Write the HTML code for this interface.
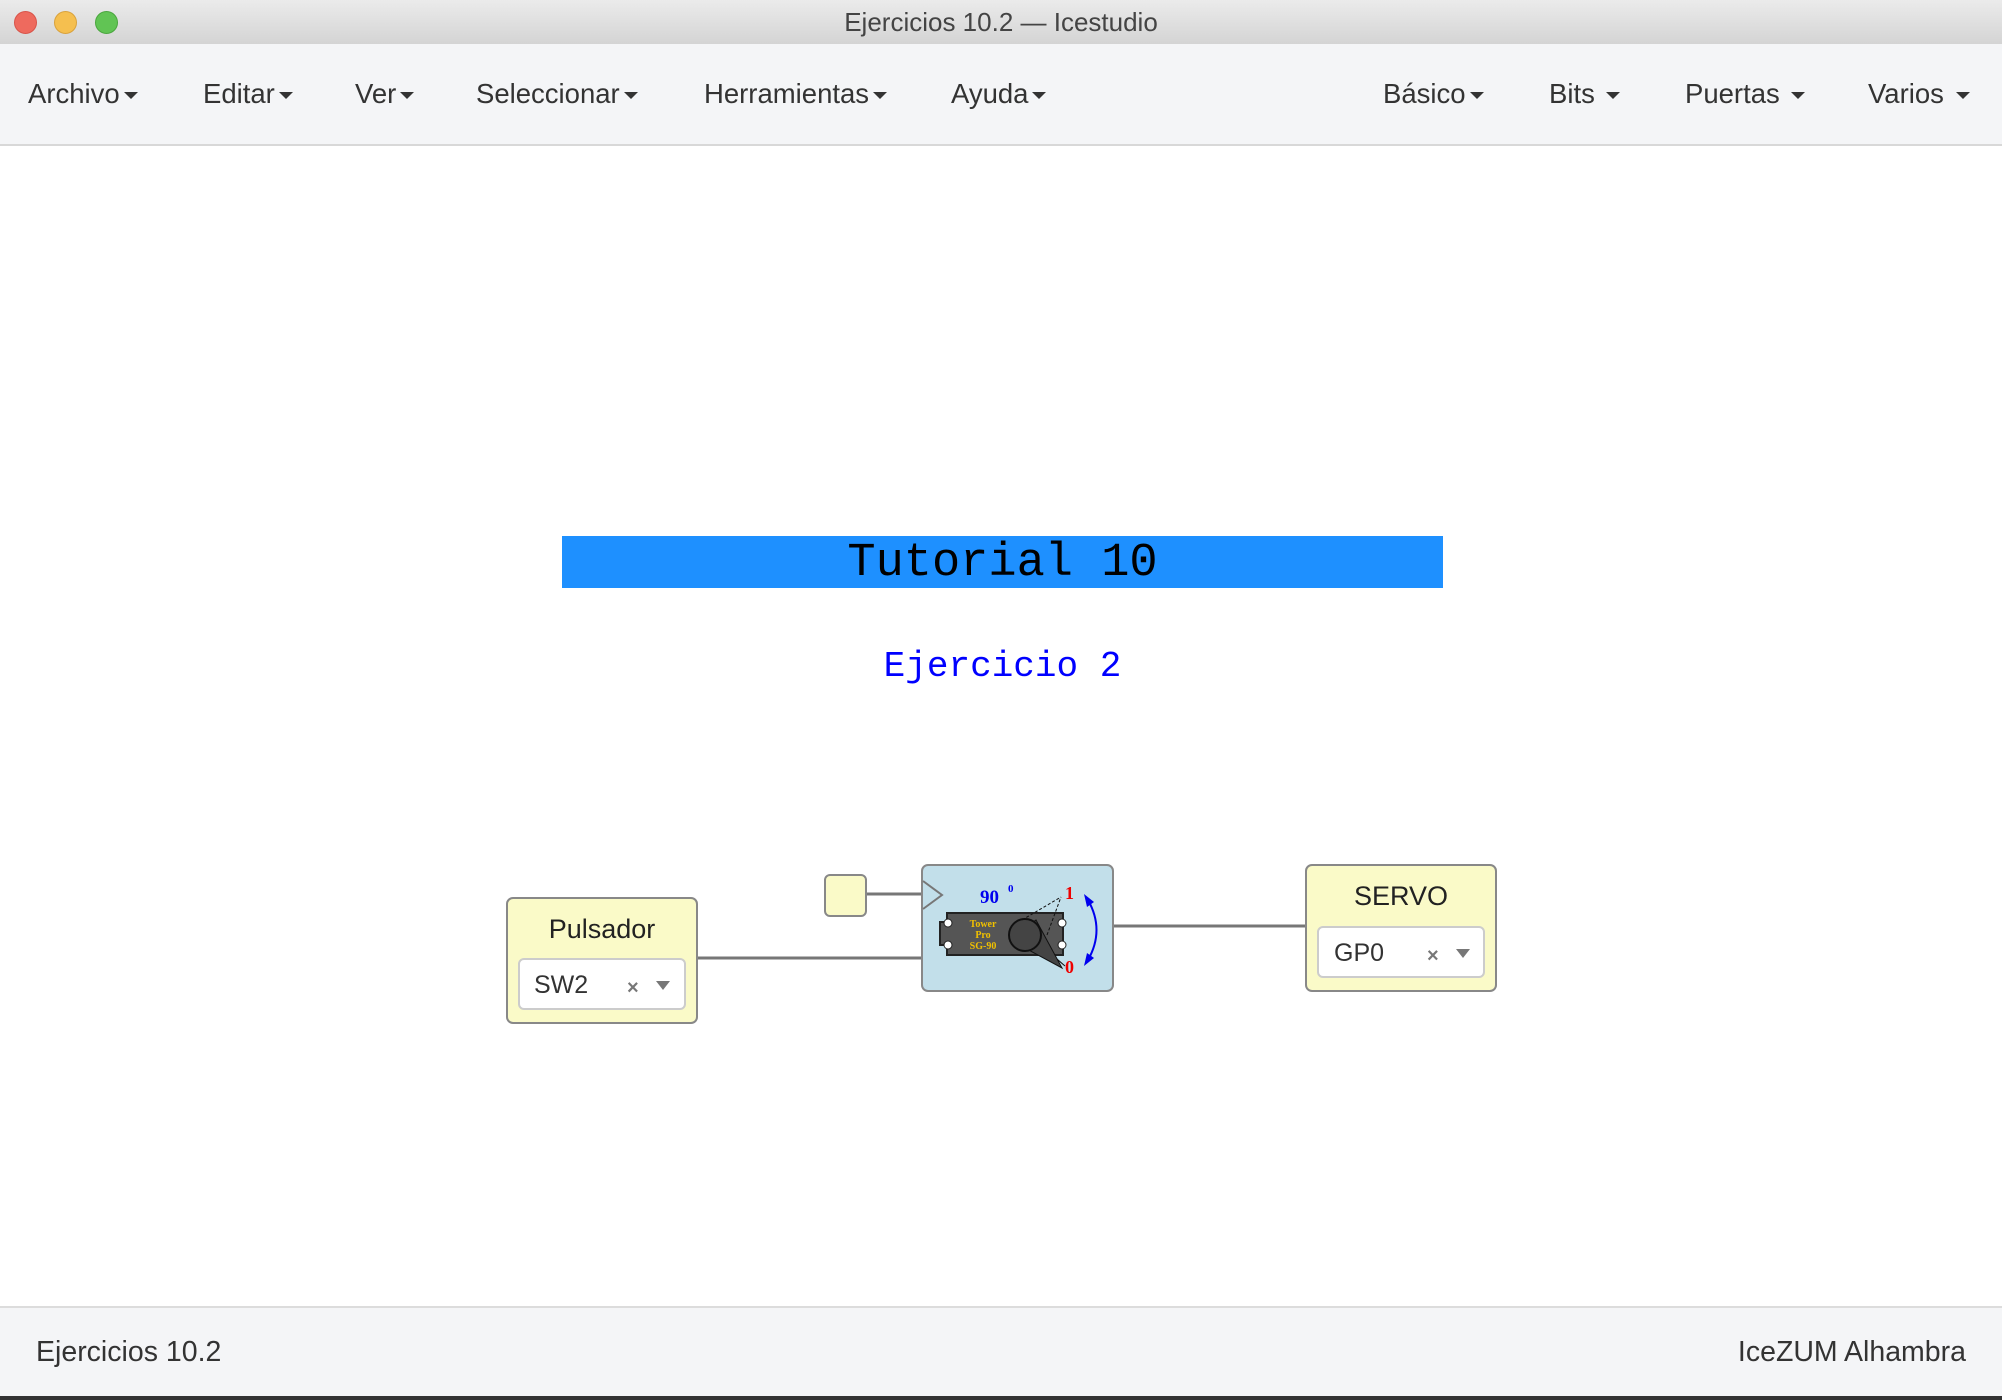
<!DOCTYPE html>
<html><head><meta charset="utf-8"><style>
html,body{margin:0;padding:0;width:2002px;height:1398px;overflow:hidden;background:#fff;font-family:"Liberation Sans",sans-serif;}
.abs{position:absolute;}
#title{left:0;top:0;width:2002px;height:44px;background:linear-gradient(#ebebeb,#d4d4d4);border-bottom:1px solid #b8b8b8;}
#menu{left:0;top:44px;width:2002px;height:100px;background:#f4f5f7;border-bottom:2px solid #d8d8d8;}
.m{position:absolute;top:78px;font-size:27.5px;color:#333;white-space:nowrap;}
.m:after{content:"";display:inline-block;margin-left:4px;vertical-align:middle;border-left:7px solid transparent;border-right:7px solid transparent;border-top:7px solid #333;}
#foot{left:0;top:1306px;width:2002px;height:88px;background:#f4f5f7;border-top:2px solid #dcdcdc;border-bottom:4px solid #333;}
.dot{position:absolute;top:11px;width:23px;height:23px;border-radius:50%;}
</style></head><body>
<div id="title" class="abs"></div>
<div class="dot" style="left:14px;background:#ee6a5e;border:1px solid #d8544a;width:21px;height:21px"></div>
<div class="dot" style="left:54px;background:#f5bf4f;border:1px solid #d9a23c;width:21px;height:21px"></div>
<div class="dot" style="left:95px;background:#61c454;border:1px solid #4aa63e;width:21px;height:21px"></div>
<div class="abs" style="left:0;top:7px;width:2002px;text-align:center;font-size:26px;color:#444">Ejercicios 10.2 — Icestudio</div>
<div id="menu" class="abs"></div>
<div class="m" style="left:28px">Archivo</div>
<div class="m" style="left:203px">Editar</div>
<div class="m" style="left:355px">Ver</div>
<div class="m" style="left:476px">Seleccionar</div>
<div class="m" style="left:704px">Herramientas</div>
<div class="m" style="left:951px">Ayuda</div>
<div class="m" style="left:1383px">Básico</div>
<div class="m" style="left:1549px">Bits&nbsp;</div>
<div class="m" style="left:1685px">Puertas&nbsp;</div>
<div class="m" style="left:1868px">Varios&nbsp;</div>

<div class="abs" style="left:562px;top:536px;width:881px;height:52px;background:#1e90ff;"></div>
<div class="abs" style="left:562px;top:535px;width:881px;text-align:center;font-family:'Liberation Mono',monospace;font-size:47px;line-height:58px;color:#000">Tutorial 10</div>
<div class="abs" style="left:562px;top:646px;width:881px;text-align:center;font-family:'Liberation Mono',monospace;font-size:36px;color:#0000ff">Ejercicio 2</div>

<svg class="abs" style="left:0;top:0" width="2002" height="1398">
<g stroke="#777" stroke-width="3" fill="none">
<line x1="697" y1="958" x2="922" y2="958"/>
<line x1="866" y1="894" x2="922" y2="894"/>
<line x1="1113" y1="926" x2="1306" y2="926"/>
</g>
<rect x="825" y="875" width="41" height="41" rx="5" fill="#fafac8" stroke="#888" stroke-width="2"/>
<rect x="922" y="865" width="191" height="126" rx="6" fill="#c2dfea" stroke="#888" stroke-width="2"/>
<polyline points="923,881 942,895 923,909" fill="none" stroke="#777" stroke-width="2"/>
<text x="980" y="903" font-family="Liberation Serif,serif" font-weight="bold" font-size="19" fill="#0000ee">90</text>
<text x="1008" y="892" font-family="Liberation Serif,serif" font-weight="bold" font-size="11" fill="#0000ee">0</text>
<text x="1065" y="899" font-family="Liberation Serif,serif" font-weight="bold" font-size="18" fill="#e00">1</text>
<text x="1065" y="973" font-family="Liberation Serif,serif" font-weight="bold" font-size="18" fill="#e00">0</text>
<path d="M947,913 H1063 V955 H947 V945 H940 V922 H947 Z" fill="#555" stroke="#222" stroke-width="2"/>
<circle cx="948" cy="923" r="4" fill="#fff" stroke="#222"/>
<circle cx="948" cy="945" r="4" fill="#fff" stroke="#222"/>
<circle cx="1062" cy="923" r="4" fill="#fff" stroke="#222"/>
<circle cx="1062" cy="945" r="4" fill="#fff" stroke="#222"/>
<text x="983" y="927" text-anchor="middle" font-family="Liberation Serif,serif" font-weight="bold" font-size="10" fill="#f0c000">Tower</text>
<text x="983" y="938" text-anchor="middle" font-family="Liberation Serif,serif" font-weight="bold" font-size="10" fill="#f0c000">Pro</text>
<text x="983" y="949" text-anchor="middle" font-family="Liberation Serif,serif" font-weight="bold" font-size="10" fill="#f0c000">SG-90</text>
<path d="M1018,925 L1065,966 L1038,943 Z" fill="#444" stroke="#111"/>
<path d="M1010,940 L1062,968 L1036,920 Z" fill="#444" stroke="#111"/>
<circle cx="1025" cy="935" r="16" fill="#444" stroke="#111" stroke-width="2"/>
<path d="M1022,920 L1061,897 M1047,935 L1061,897" stroke="#111" stroke-dasharray="3,2" fill="none"/>
<path d="M1088,900 Q1105,930 1088,960" stroke="#0000ee" stroke-width="2" fill="none"/>
<polygon points="1084,894 1094,902 1087,907" fill="#0000ee"/>
<polygon points="1084,966 1094,958 1087,953" fill="#0000ee"/>

<rect x="507" y="898" width="190" height="125" rx="6" fill="#fafac8" stroke="#888" stroke-width="2"/>
<text x="602" y="938" text-anchor="middle" font-family="Liberation Sans,sans-serif" font-size="27" fill="#222">Pulsador</text>
<rect x="519" y="959" width="166" height="50" rx="5" fill="#fff" stroke="#ccc" stroke-width="2"/>
<text x="534" y="993" font-family="Liberation Sans,sans-serif" font-size="25" fill="#333">SW2</text>
<text x="627" y="994" font-family="Liberation Sans,sans-serif" font-size="20" font-weight="bold" fill="#777">×</text>
<polygon points="656,981 670,981 663,990" fill="#777"/>

<rect x="1306" y="865" width="190" height="126" rx="6" fill="#fafac8" stroke="#888" stroke-width="2"/>
<text x="1401" y="905" text-anchor="middle" font-family="Liberation Sans,sans-serif" font-size="27" fill="#222">SERVO</text>
<rect x="1318" y="927" width="166" height="50" rx="5" fill="#fff" stroke="#ccc" stroke-width="2"/>
<text x="1334" y="961" font-family="Liberation Sans,sans-serif" font-size="25" fill="#333">GP0</text>
<text x="1427" y="962" font-family="Liberation Sans,sans-serif" font-size="20" font-weight="bold" fill="#777">×</text>
<polygon points="1456,949 1470,949 1463,958" fill="#777"/>
</svg>

<div id="foot" class="abs"></div>
<div class="abs" style="left:36px;top:1336px;font-size:28.5px;color:#333">Ejercicios 10.2</div>
<div class="abs" style="right:36px;top:1336px;font-size:28.5px;color:#333">IceZUM Alhambra</div>
</body></html>
